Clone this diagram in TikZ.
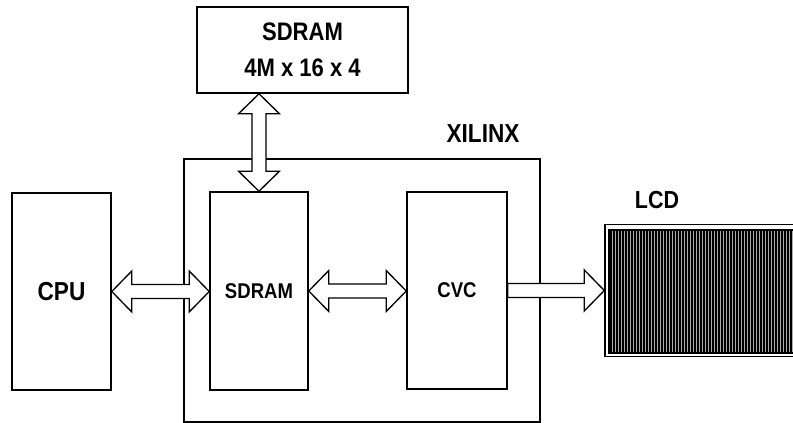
\documentclass[tikz,border=0pt]{standalone}
\usepackage{fontspec}
\setmainfont{Liberation Sans}[FakeStretch=0.87]
\usepackage{tikz}
\usetikzlibrary{positioning,calc}

\begin{document}
\begin{tikzpicture}[
  x=0.75pt, y=-0.75pt,
  blk/.style={draw=black, line width=1.2pt, align=center, inner sep=0pt, font=\bfseries\fontsize{16}{19}\selectfont},
  big/.style={font=\bfseries\fontsize{19.5}{24}\selectfont},
  barrow/.style={draw=black, line width=1pt, fill=white, line join=miter},
  stripe/.style={draw=black, line width=1pt}
]
  \path[use as bounding box, clip] (0,0) rectangle (793,423);

  % Blocs
  \node[blk, minimum width=267pt, minimum height=197.25pt] (xilinx) at (362,290.5) {};
  \node[big] (xilinxlab) at (483,134) {XILINX};
  \node[blk, big, minimum width=74.25pt, minimum height=147.75pt] (cpu) at (61.5,291.5) {CPU};
  \node[blk, minimum width=73.5pt, minimum height=148.5pt] (sdram) at (259,291) {SDRAM};
  \node[blk, minimum width=75pt, minimum height=147.75pt] (cvc) at (457,290.5) {CVC};
  \node[blk, minimum width=158.25pt, minimum height=64.5pt, font=\bfseries\fontsize{19}{26.6}\selectfont] (mem) at (302.5,50) {SDRAM\\4M x 16 x 4};

  % Ecran LCD
  \node[big, font=\bfseries\fontsize{18.5}{22}\selectfont] (lcdlab) at (657,200) {LCD};
  \node[draw=black, line width=1.1pt, minimum width=146.25pt, minimum height=99pt] (lcd) at (702.5,290.5) {};
  \node[draw=black, line width=1.1pt, fill=gray!65, minimum width=142.5pt, minimum height=92.25pt] (screen) at (704.5,291.5) {};
  \foreach \sx in {611,614,...,797}
    \draw[stripe] (\sx,231) -- (\sx,352);
  \draw[line width=1.1pt] (screen.north west) rectangle (screen.south east);

  % Bus
  \draw[barrow] let \p1=(mem.south -| sdram.north), \p2=(sdram.north) in
    (\x2,\y1) -- (\x2-15.4pt,\y1-15pt) -- (\x2-5.25pt,\y1-15pt) -- (\x2-5.25pt,\y2+15pt)
    -- (\x2-15.4pt,\y2+15pt) -- (\p2) -- (\x2+15.4pt,\y2+15pt) -- (\x2+5.25pt,\y2+15pt)
    -- (\x2+5.25pt,\y1-15pt) -- (\x2+15.4pt,\y1-15pt) -- cycle;
  \draw[barrow] let \p1=(cpu.east), \p2=(sdram.west) in
    (\p1) -- (\x1+15pt,\y1+15.4pt) -- (\x1+15pt,\y1+5.25pt) -- (\x2-15pt,\y1+5.25pt)
    -- (\x2-15pt,\y1+15.4pt) -- (\x2,\y1) -- (\x2-15pt,\y1-15.4pt) -- (\x2-15pt,\y1-5.25pt)
    -- (\x1+15pt,\y1-5.25pt) -- (\x1+15pt,\y1-15.4pt) -- cycle;
  \draw[barrow] let \p1=(sdram.east), \p2=(cvc.west) in
    (\p1) -- (\x1+15pt,\y1+15.4pt) -- (\x1+15pt,\y1+5.25pt) -- (\x2-15pt,\y1+5.25pt)
    -- (\x2-15pt,\y1+15.4pt) -- (\x2,\y1) -- (\x2-15pt,\y1-15.4pt) -- (\x2-15pt,\y1-5.25pt)
    -- (\x1+15pt,\y1-5.25pt) -- (\x1+15pt,\y1-15.4pt) -- cycle;
  \draw[barrow] let \p1=(cvc.east), \p2=(lcd.west) in
    (\p1) -- (\x1,\y1+5.25pt) -- (\x2-15pt,\y1+5.25pt) -- (\x2-15pt,\y1+15.4pt)
    -- (\x2,\y1) -- (\x2-15pt,\y1-15.4pt) -- (\x2-15pt,\y1-5.25pt) -- (\x1,\y1-5.25pt) -- cycle;
\end{tikzpicture}
\end{document}
